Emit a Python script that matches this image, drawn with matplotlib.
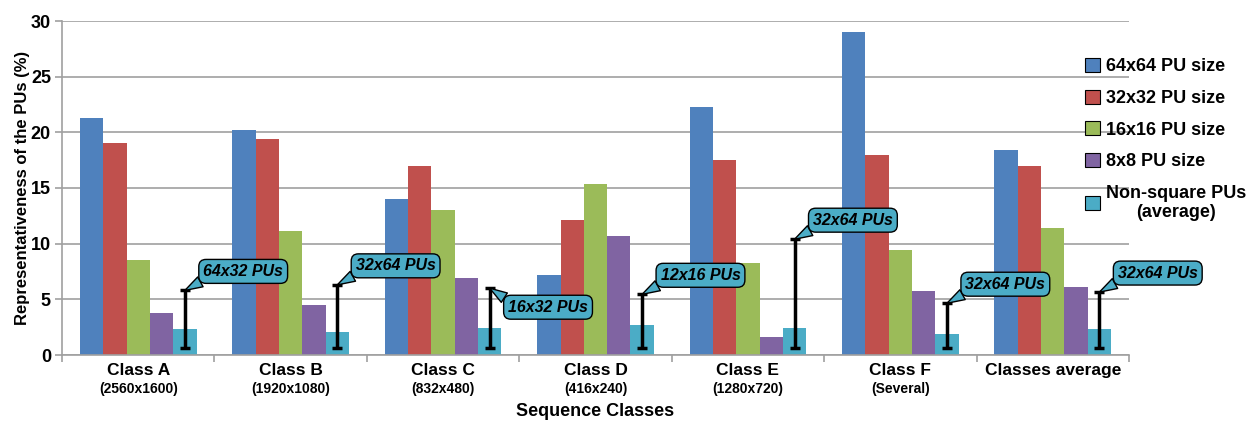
import numpy as np
import matplotlib
matplotlib.use('Agg')
import matplotlib.pyplot as plt
from matplotlib.patches import Patch

plt.rcParams['font.family'] = ['Liberation Sans', 'DejaVu Sans']
plt.rcParams['font.weight'] = 'bold'
plt.rcParams['axes.labelweight'] = 'bold'

## data
classes = ['Class A', 'Class B', 'Class C', 'Class D', 'Class E', 'Class F', 'Classes average']
sub_labels = ['(2560x1600)', '(1920x1080)', '(832x480)', '(416x240)', '(1280x720)', '(Several)', '']
pu64 = [21.3, 20.25, 14.0, 7.15, 22.3, 29.0, 18.4]
pu32 = [19.0, 19.4, 17.0, 12.1, 17.55, 18.0, 16.95]
pu16 = [8.5, 11.1, 13.05, 15.4, 8.3, 9.45, 11.45]
pu8 = [3.8, 4.5, 6.9, 10.65, 1.6, 5.75, 6.15]
nonsq = [2.35, 2.1, 2.4, 2.65, 2.4, 1.85, 2.35]
nonsq_low = [0.6, 0.6, 0.6, 0.6, 0.6, 0.6, 0.6]
nonsq_high = [5.8, 6.3, 6.0, 5.45, 10.4, 4.65, 5.65]
callouts = ['64x32 PUs', '32x64 PUs', '16x32 PUs', '12x16 PUs', '32x64 PUs', '32x64 PUs', '32x64 PUs']
series_names = ['64x64 PU size', '32x32 PU size', '16x16 PU size', '8x8 PU size', 'Non-square PUs\n(average)']

colors = ['#4f81bd', '#c0504d', '#9bbb59', '#8064a2', '#4bacc6']
above = [True, True, False, True, True, True, True]  # callout box above or below the bar top

fig = plt.figure(figsize=(12.5, 4.22), dpi=100)
ax = fig.add_axes([62/1250, 1-355/422, (1129-62)/1250, (355-21)/422])

x = np.arange(len(classes))
w = 0.153
series = [pu64, pu32, pu16, pu8, nonsq]
for k, vals in enumerate(series):
    ax.bar(x + (k-2)*w, vals, w, color=colors[k], edgecolor='none', zorder=2)

# whiskers for the non-square PUs
xc = x + 2*w
low = np.array(nonsq_low)
high = np.array(nonsq_high)
mid = (low + high) / 2
ax.errorbar(xc, mid, yerr=(high - low) / 2, fmt='none', ecolor='black',
            elinewidth=2.5, capsize=3.8, capthick=2.5, zorder=3)

for i, txt in enumerate(callouts):
    dy = 13.7 if above[i] else -13.7
    rel = (0.1, 0.2) if above[i] else (0.05, 0.8)
    ax.annotate(txt, xy=(xc[i], high[i]), xytext=(42, dy), textcoords='offset points',
                ha='center', va='center', fontsize=11.5, style='italic', fontweight='bold',
                annotation_clip=False, zorder=5,
                bbox=dict(boxstyle='round,pad=0.28,rounding_size=0.45', fc='#4bacc6', ec='black', lw=1),
                arrowprops=dict(arrowstyle='wedge,tail_width=0.7,shrink_factor=0.5',
                                fc='#4bacc6', ec='black', lw=1, relpos=rel,
                                shrinkA=0, shrinkB=0))

ax.set_xlim(-0.5, len(classes) - 0.5)
ax.set_ylim(0, 30)
ax.set_yticks(np.arange(0, 31, 5))
ax.yaxis.grid(True, color='#a0a0a0', lw=1.2, zorder=0)
ax.set_axisbelow(True)
for s in ['top', 'right']:
    ax.spines[s].set_visible(False)
for s in ['left', 'bottom']:
    ax.spines[s].set_color('#a0a0a0')
    ax.spines[s].set_linewidth(1.2)

ax.set_xticks(x)
ax.set_xticklabels(classes, fontsize=12.5)
ax.set_xticks(np.arange(-0.5, len(classes), 1), minor=True)
ax.tick_params(axis='x', which='major', length=0, pad=6)
ax.tick_params(axis='x', which='minor', length=5, color='#a0a0a0', width=1.2)
ax.tick_params(axis='y', length=5, color='#a0a0a0', width=1.2, labelsize=13, pad=3)

trans = ax.get_xaxis_transform()
for i, s in enumerate(sub_labels):
    ax.text(i, -0.102, s, transform=trans, ha='center', va='center', fontsize=10)

ax.set_ylabel('Representativeness of the PUs (%)', fontsize=12)
ax.yaxis.set_label_coords(-0.03, 0.5)
ax.set_xlabel('Sequence Classes', fontsize=13)
ax.xaxis.set_label_coords(0.5, -0.145)

handles = [Patch(fc=c, ec='black', lw=0.8) for c in colors]
leg = fig.legend(handles, series_names, loc='upper left', bbox_to_anchor=(1078/1250, 1-51/422),
                 frameon=False, fontsize=13, handlelength=0.8, handleheight=0.8,
                 handletextpad=0.35, labelspacing=0.8, borderaxespad=0)
for t in leg.get_texts():
    t.set_multialignment('center')

fig.savefig('out.png', dpi=100)
